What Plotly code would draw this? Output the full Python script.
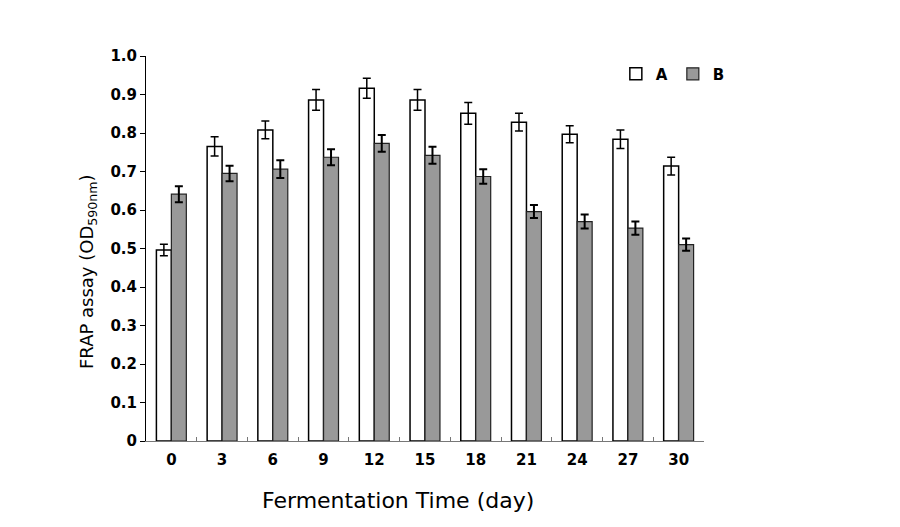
import plotly.graph_objects as go

days = ["0", "3", "6", "9", "12", "15", "18", "21", "24", "27", "30"]
a_vals = [0.496, 0.765, 0.808, 0.886, 0.916, 0.886, 0.851, 0.828, 0.797, 0.784, 0.714]
a_err = [0.015, 0.025, 0.023, 0.027, 0.026, 0.027, 0.028, 0.023, 0.022, 0.024, 0.023]
b_vals = [0.641, 0.695, 0.706, 0.737, 0.773, 0.742, 0.687, 0.596, 0.570, 0.553, 0.510]
b_err = [0.021, 0.020, 0.023, 0.021, 0.022, 0.022, 0.019, 0.017, 0.018, 0.017, 0.016]
y_ticks = [0, 0.1, 0.2, 0.3, 0.4, 0.5, 0.6, 0.7, 0.8, 0.9, 1.0]
y_labels = ["0", "0.1", "0.2", "0.3", "0.4", "0.5", "0.6", "0.7", "0.8", "0.9", "1.0"]

font_family = "DejaVu Sans"

fig = go.Figure()
fig.add_trace(go.Bar(
    name="A", x=days, y=a_vals,
    marker=dict(color="white", line=dict(color="black", width=1.5)),
    error_y=dict(type="data", array=a_err, color="black", thickness=1.5, width=4),
))
fig.add_trace(go.Bar(
    name="B", x=days, y=b_vals,
    marker=dict(color="#999999", line=dict(color="#222222", width=1.2)),
    error_y=dict(type="data", array=b_err, color="black", thickness=2, width=4),
))

fig.update_layout(
    width=900, height=527,
    margin=dict(l=146, r=196, t=56, b=86),
    plot_bgcolor="white", paper_bgcolor="white",
    barmode="group", bargap=0.41, bargroupgap=0,
    font=dict(family=font_family, color="black"),
    showlegend=True,
    legend=dict(
        orientation="h", x=0.842, y=0.953, xanchor="left", yanchor="middle",
        font=dict(family=font_family, size=15, weight="bold"),
        itemwidth=30, entrywidth=12, entrywidthmode="pixels",
        bgcolor="rgba(0,0,0,0)", traceorder="normal",
    ),
    xaxis=dict(
        type="category", showgrid=False, showline=True, linecolor="#777777", linewidth=1,
        ticks="inside", ticklen=4, tickcolor="#777777", tickson="boundaries",
        tickfont=dict(family=font_family, size=15, weight="bold"),
        ticklabelstandoff=5,
        zeroline=False,
    ),
    yaxis=dict(
        range=[0, 1.0], showgrid=False, showline=True, linecolor="black", linewidth=1,
        ticks="outside", ticklen=5, tickcolor="black",
        tickvals=y_ticks, ticktext=y_labels,
        tickfont=dict(family=font_family, size=15, weight="bold"),
        zeroline=False,
    ),
)

fig.add_annotation(
    text="Fermentation Time (day)", xref="paper", yref="paper",
    x=(398 - 146) / 558, y=-(500 - 441) / 385, xanchor="center", yanchor="middle",
    showarrow=False, font=dict(family=font_family, size=22),
)
fig.add_annotation(
    text="FRAP assay (OD<sub>590nm</sub>)", xref="paper", yref="paper",
    x=-(146 - 88) / 558, y=(441 - 272) / 385, xanchor="center", yanchor="middle",
    textangle=-90, showarrow=False, font=dict(family=font_family, size=18),
)

fig.write_html("out.html")
